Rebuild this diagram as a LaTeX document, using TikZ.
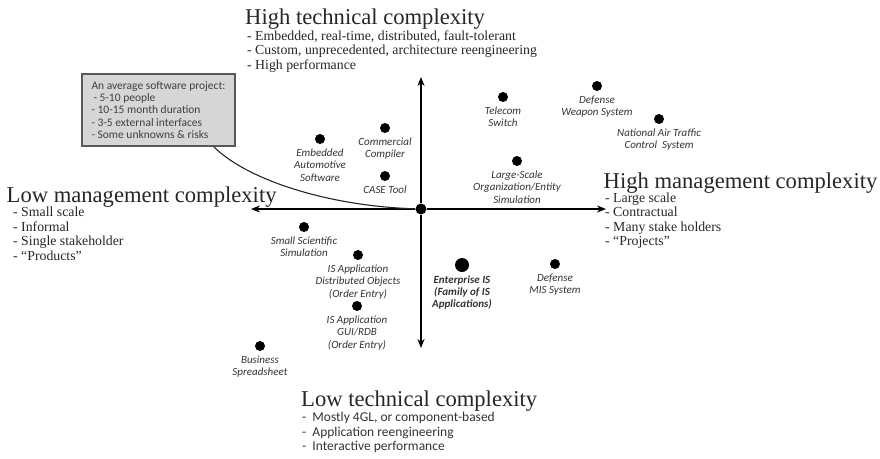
\documentclass[tikz,border=0pt]{standalone}
\usepackage{fontspec}
\setmainfont{Liberation Serif}
\newfontfamily\calibri{Carlito}
\usetikzlibrary{arrows.meta,positioning}

\begin{document}
\begin{tikzpicture}[x=1pt,y=-1pt,node distance=4.5pt,
    heading/.style={font=\fontsize{22.6}{26}\selectfont, text=black!85, inner sep=0, anchor=base west},
    points/.style={font=\fontsize{13.8}{14.4}\selectfont, text=black!85, inner sep=0, align=left, anchor=north west},
    proj/.style={circle, fill=black, inner sep=0, minimum size=10pt},
    projname/.style={font=\calibri\itshape\fontsize{11}{12.3}\selectfont, text=black!80, inner sep=0, align=center},
    axis/.style={line width=2pt, -{Stealth[length=9pt,width=7pt]}}
]
    \useasboundingbox (0,0) rectangle (880,458);

    % axes
    \node[proj, minimum size=11pt] (origin) at (421,209) {};
    \coordinate (east) at (606,209);
    \coordinate (west) at (251,209);
    \coordinate (north) at (421,77);
    \coordinate (south) at (421,348);
    \draw[axis] (origin) -- (east);
    \draw[axis] (origin) -- (west);
    \draw[axis] (origin) -- (north);
    \draw[axis] (origin) -- (south);

    % high technical complexity
    \node[heading] (hitech) at (245,24) {High technical complexity};
    \node[points] (hitechpts) at (247,30.6) {- Embedded, real-time, distributed, fault-tolerant\\- Custom, unprecedented, architecture reengineering\\- High performance};

    % low management complexity
    \node[heading] (lomgmt) at (6.5,202) {Low management complexity};
    \node[points] (lomgmtpts) at (13,207.1) {- Small scale\\- Informal\\- Single stakeholder\\- “Products”};

    % high management complexity
    \node[heading] (himgmt) at (603.5,188) {High management complexity};
    \node[points] (himgmtpts) at (605,192.6) {- Large scale\\- Contractual\\- Many stake holders\\- “Projects”};

    % low technical complexity
    \node[heading] (lotech) at (301,406.7) {Low technical complexity};
    \node[points, font=\calibri\fontsize{13.5}{14.5}\selectfont, text=black!80] (lotechpts) at (302,412.3) {-~ Mostly 4GL, or component-based\\-~ Application reengineering\\-~ Interactive performance};

    % projects
    \node[proj] (telecom) at (503,97) {};
    \node[projname, below=of telecom] (telecomtxt) {Telecom\\Switch};
    \node[proj] (weapon) at (597,86) {};
    \node[projname, below=of weapon] (weapontxt) {Defense\\Weapon System};
    \node[proj] (atc) at (659,119) {};
    \node[projname, below=of atc] (atctxt) {National Air Traffic\\Control\ \ System};
    \node[proj] (simul) at (517,161) {};
    \node[projname, below=of simul] (simultxt) {Large-Scale\\Organization/Entity\\Simulation};
    \node[proj] (auto) at (320,139) {};
    \node[projname, below=of auto] (autotxt) {Embedded\\Automotive\\Software};
    \node[proj] (compiler) at (385,128) {};
    \node[projname, below=of compiler] (compilertxt) {Commercial\\Compiler};
    \node[proj] (case) at (385,176) {};
    \node[projname, below=of case] (casetxt) {CASE Tool};
    \node[proj] (science) at (304,227) {};
    \node[projname, below=of science] (sciencetxt) {Small Scientific\\Simulation};
    \node[proj] (isdist) at (358,255) {};
    \node[projname, below=of isdist] (isdisttxt) {IS Application\\Distributed Objects\\(Order Entry)};
    \node[proj] (isgui) at (357,306) {};
    \node[projname, below=of isgui] (isguitxt) {IS Application\\GUI/RDB\\(Order Entry)};
    \node[proj] (sheet) at (260,346) {};
    \node[projname, below=of sheet] (sheettxt) {Business\\Spreadsheet};
    \node[proj, minimum size=14pt] (enterprise) at (462,265) {};
    \node[projname, font=\calibri\bfseries\itshape\fontsize{11}{12.3}\selectfont, below=3pt of enterprise] (enterprisetxt) {Enterprise IS\\(Family of IS\\Applications)};
    \node[proj] (mis) at (555,264) {};
    \node[projname, below=of mis] (mistxt) {Defense\\MIS System};

    % average project
    \node[draw=black!65, line width=1.3pt, fill=black!16, minimum width=153pt, minimum height=72pt, align=left,
          font=\calibri\fontsize{11.5}{12.1}\selectfont, text=black!75, inner sep=0] (avg) at (158.5,110)
          {An average software project:\\\hspace{2pt}- 5-10 people\\- 10-15 month duration\\- 3-5 external interfaces\\- Some unknowns \& risks};
    \draw[line width=1.1pt, black!85] ([xshift=-22pt]avg.south east) .. controls +(32,32) and +(-96,-3) .. (origin);
\end{tikzpicture}
\end{document}
